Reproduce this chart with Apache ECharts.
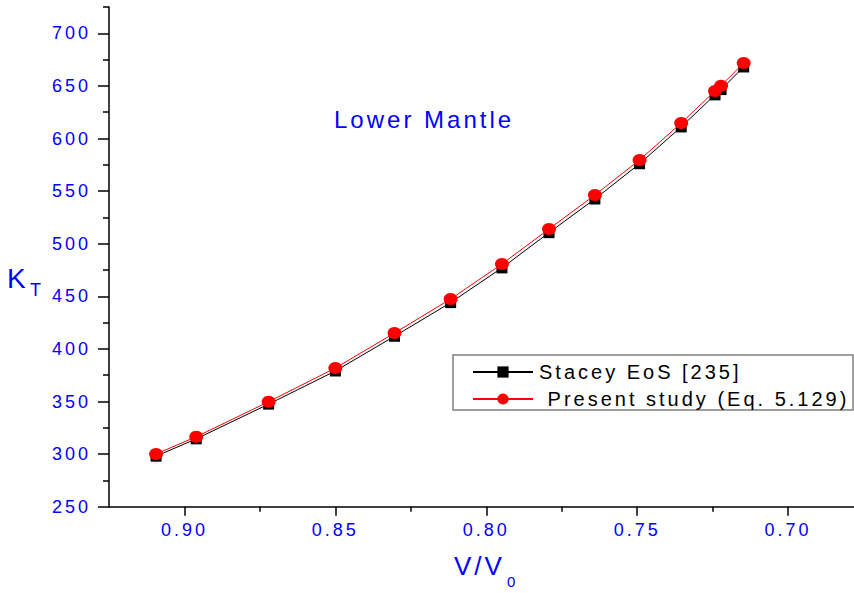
<!DOCTYPE html>
<html>
<head>
<meta charset="utf-8">
<script src="https://cdn.jsdelivr.net/npm/echarts@6/dist/echarts.min.js"></script>
<style>
  html, body { margin: 0; padding: 0; background: #fff; }
  #chart { width: 854px; height: 593px; }
  #chart text { letter-spacing: 3px; }
</style>
</head>
<body>
<div id="chart"></div>
<script>
// Compression ratio V/V0 and isothermal bulk modulus K_T (GPa), lower mantle
const vRatio   = [0.9094, 0.8961, 0.8721, 0.8500, 0.8304, 0.8118, 0.7948, 0.7792, 0.7640, 0.7492, 0.7354, 0.7242, 0.7222, 0.7147];
const kStacey  = [298.0, 314.5, 347.5, 379.0, 412.0, 444.0, 477.0, 510.5, 542.5, 576.0, 611.0, 641.5, 646.5, 668.0];
const kPresent = [300.1, 316.5, 349.8, 381.8, 415.1, 447.4, 480.7, 514.0, 546.3, 579.6, 614.7, 645.2, 650.2, 671.8];

const seriesNames = ['Stacey EoS [235]', 'Present study (Eq. 5.129)'];

// Tick positions
const xMajor = [0.90, 0.85, 0.80, 0.75, 0.70];
const xMinor = [0.875, 0.825, 0.775, 0.725];
const yMajor = [250, 300, 350, 400, 450, 500, 550, 600, 650, 700];
const yMinor = [275, 325, 375, 425, 475, 525, 575, 625, 675, 725];

const FONT = '"Liberation Sans", Arial, sans-serif';
const BLUE = '#0000ff';

const pairs = (xs, ys) => xs.map((x, i) => [x, ys[i]]);

const xRange = { min: 0.675, max: 0.925, inverse: true };
const yRange = { min: 250, max: 725 };

const chart = echarts.init(document.getElementById('chart'), null, { renderer: 'svg' });

chart.setOption({
  animation: false,
  backgroundColor: '#ffffff',
  grid: {
    left: 109, top: 7, right: -9.5, bottom: 86.3,
    containLabel: false, outerBoundsMode: 'none'
  },
  xAxis: [
    Object.assign({
      type: 'value', position: 'bottom',
      axisLine: { show: true, onZero: false, lineStyle: { color: '#000', width: 1.5 } },
      axisTick: { show: true, inside: false, length: 9, customValues: xMajor, lineStyle: { color: '#000', width: 1.5 } },
      axisLabel: {
        customValues: xMajor, margin: 14, color: BLUE, fontSize: 18, fontFamily: FONT,
        formatter: v => v.toFixed(2)
      },
      splitLine: { show: false }
    }, xRange),
    Object.assign({
      type: 'value', position: 'bottom',
      axisLine: { show: false },
      axisTick: { show: true, inside: false, length: 5, customValues: xMinor, lineStyle: { color: '#000', width: 1.5 } },
      axisLabel: { show: false },
      splitLine: { show: false }
    }, xRange)
  ],
  yAxis: [
    Object.assign({
      type: 'value', position: 'left',
      axisLine: { show: true, onZero: false, lineStyle: { color: '#000', width: 1.5 } },
      axisTick: { show: true, inside: false, length: 11, customValues: yMajor, lineStyle: { color: '#000', width: 1.5 } },
      axisLabel: { customValues: yMajor, margin: 18, color: BLUE, fontSize: 18, fontFamily: FONT },
      splitLine: { show: false }
    }, yRange),
    Object.assign({
      type: 'value', position: 'left',
      axisLine: { show: false },
      axisTick: { show: true, inside: false, length: 6, customValues: yMinor, lineStyle: { color: '#000', width: 1.5 } },
      axisLabel: { show: false },
      splitLine: { show: false }
    }, yRange)
  ],
  legend: {
    orient: 'vertical',
    left: 472, top: 362,
    padding: 0,
    itemWidth: 60, itemHeight: 14, itemGap: 7,
    textStyle: { fontSize: 20, fontFamily: FONT, color: '#000', padding: [0, 0, 0, 1] },
    formatter: name => name === seriesNames[1] ? '\u00a0' + name : name,
    data: seriesNames
  },
  series: [
    {
      name: seriesNames[0], type: 'line',
      xAxisIndex: 0, yAxisIndex: 0,
      data: pairs(vRatio, kStacey),
      symbol: 'rect', symbolSize: 11,
      itemStyle: { color: '#000000' },
      lineStyle: { color: '#000000', width: 1 },
      z: 2
    },
    {
      name: seriesNames[1], type: 'line',
      xAxisIndex: 0, yAxisIndex: 0,
      data: pairs(vRatio, kPresent),
      symbol: 'circle', symbolSize: [14, 12],
      itemStyle: { color: '#ff0000' },
      lineStyle: { color: '#ff0000', width: 1 },
      z: 3
    }
  ],
  graphic: [
    {
      type: 'rect', z: 1,
      shape: { x: 453, y: 355, width: 400, height: 55 },
      style: { fill: '#ffffff', stroke: '#808080', lineWidth: 1.5 }
    },
    {
      type: 'text', left: 334, top: 107,
      style: { text: 'Lower Mantle', fill: BLUE, font: '24px ' + FONT }
    },
    // y-axis title: K with subscript T
    {
      type: 'text', left: 7, top: 264,
      style: { text: 'K', fill: BLUE, font: '28px ' + FONT }
    },
    {
      type: 'text', left: 30, top: 281,
      style: { text: 'T', fill: BLUE, font: '18px ' + FONT }
    },
    // x-axis title: V/V with subscript 0
    {
      type: 'text', left: 454, top: 553,
      style: { text: 'V/V', fill: BLUE, font: '26px ' + FONT }
    },
    {
      type: 'text', left: 507, top: 574,
      style: { text: '0', fill: BLUE, font: '15px ' + FONT }
    }
  ]
});
</script>
</body>
</html>
